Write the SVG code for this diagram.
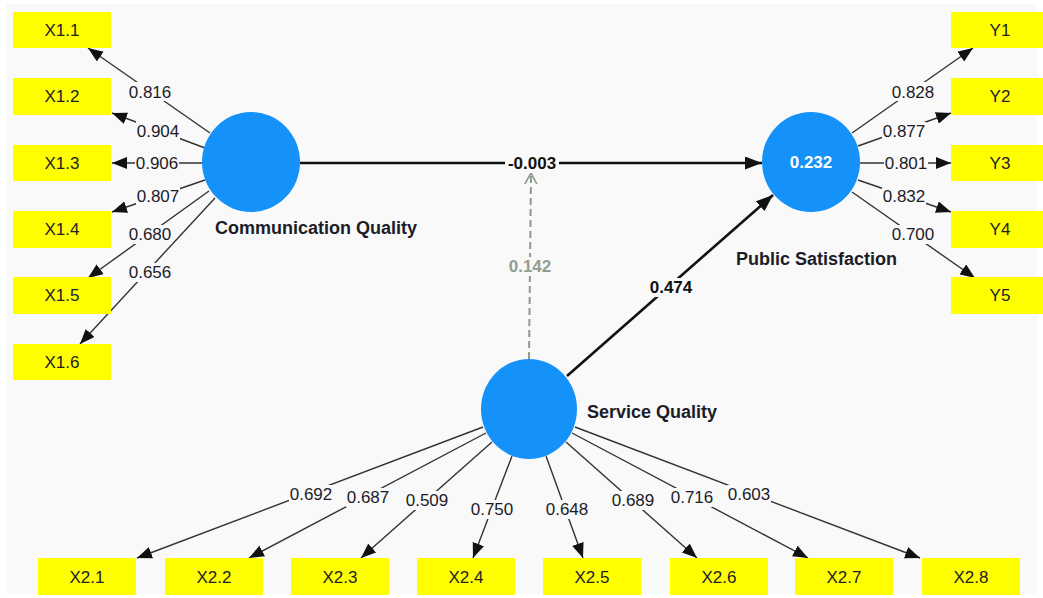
<svg xmlns="http://www.w3.org/2000/svg" width="1043" height="598" viewBox="0 0 1043 598">
<defs>
<style>
.box{fill:#ffff00}
.bt{font-family:"Liberation Sans",Arial,sans-serif;font-size:17px;fill:#222;text-anchor:middle}
.lv{fill:#1591fa}
.nl{font-family:"Liberation Sans",Arial,sans-serif;font-size:18px;font-weight:bold;fill:#1c1c28}
.ld{stroke:#333;stroke-width:1.4;fill:none;marker-end:url(#ah)}
.pth{stroke:#111;stroke-width:2.6;fill:none;marker-end:url(#ahb)}
.bg{fill:#f9f9f9}
.lab{font-family:"Liberation Sans",Arial,sans-serif;font-size:17px;fill:#1c1c28;text-anchor:middle}
.plab{font-family:"Liberation Sans",Arial,sans-serif;font-size:17px;font-weight:bold;fill:#111;text-anchor:middle}
</style>
<marker id="ah" viewBox="0 0 15 12" refX="15" refY="6" markerWidth="15" markerHeight="12" markerUnits="userSpaceOnUse" orient="auto"><path d="M0,0 L15,6 L0,12 z" fill="#111"/></marker>
<marker id="ahb" viewBox="0 0 17 13" refX="17" refY="6.5" markerWidth="17" markerHeight="13" markerUnits="userSpaceOnUse" orient="auto"><path d="M0,0 L17,6.5 L0,13 z" fill="#111"/></marker>
<marker id="aho" viewBox="0 0 12 14" refX="11" refY="7" markerWidth="12" markerHeight="14" markerUnits="userSpaceOnUse" orient="auto"><path d="M0,1 L11,7 L0,13" fill="none" stroke="#8c9a8c" stroke-width="1.6"/></marker>
</defs>
<rect x="0" y="0" width="1043" height="598" fill="#ffffff"/>
<rect x="6" y="4" width="1031" height="590" fill="#f9f9f9"/>

<g id="connectors">
<path class="ld" d="M210,133 L88,48"/>
<path class="ld" d="M205,148 L112,113"/>
<path class="ld" d="M203,163 L112,163"/>
<path class="ld" d="M205,180 L112,212"/>
<path class="ld" d="M209,191 L88,278"/>
<path class="ld" d="M215,198 L80,344"/>
<path class="ld" d="M852,133 L973,48"/>
<path class="ld" d="M858,146 L951,113"/>
<path class="ld" d="M860,163 L951,163"/>
<path class="ld" d="M858,180 L951,212"/>
<path class="ld" d="M852,192 L975,278"/>
<path class="ld" d="M483,427 L137,558"/>
<path class="ld" d="M486,433 L249,558"/>
<path class="ld" d="M492,442 L361,558"/>
<path class="ld" d="M512,456 L473,558"/>
<path class="ld" d="M546,456 L583,558"/>
<path class="ld" d="M566,442 L697,558"/>
<path class="ld" d="M572,433 L808,558"/>
<path class="ld" d="M575,427 L920,558"/>
<path class="pth" d="M300,163 L762,163"/>
<path class="pth" d="M567,376 L773,195"/>
<path d="M529,359 L531,173" fill="none" stroke="#8c9a8c" stroke-width="2" stroke-dasharray="7,4" marker-end="url(#aho)"/>
<g class="bg">
<rect x="128" y="82" width="44" height="19"/>
<rect x="136" y="121" width="44" height="19"/>
<rect x="135" y="154" width="44" height="19"/>
<rect x="136" y="187" width="44" height="19"/>
<rect x="128" y="225" width="44" height="19"/>
<rect x="128" y="263" width="44" height="19"/>
<rect x="891" y="82" width="44" height="19"/>
<rect x="882" y="122" width="44" height="19"/>
<rect x="884" y="154" width="44" height="19"/>
<rect x="882" y="187" width="44" height="19"/>
<rect x="891" y="225" width="44" height="19"/>
<rect x="289" y="485" width="44" height="19"/>
<rect x="346" y="488" width="44" height="19"/>
<rect x="405" y="491" width="44" height="19"/>
<rect x="470" y="500" width="44" height="19"/>
<rect x="545" y="500" width="44" height="19"/>
<rect x="611" y="491" width="44" height="19"/>
<rect x="670" y="488" width="44" height="19"/>
<rect x="727" y="485" width="44" height="19"/>
<rect x="505" y="154" width="54" height="19"/>
<rect x="648" y="278" width="46" height="19"/>
<rect x="507" y="257" width="46" height="19"/>
</g>
<text class="lab" x="150" y="98">0.816</text>
<text class="lab" x="158" y="137">0.904</text>
<text class="lab" x="157" y="169">0.906</text>
<text class="lab" x="158" y="202">0.807</text>
<text class="lab" x="150" y="240">0.680</text>
<text class="lab" x="150" y="278">0.656</text>
<text class="lab" x="913" y="98">0.828</text>
<text class="lab" x="904" y="137">0.877</text>
<text class="lab" x="906" y="169">0.801</text>
<text class="lab" x="904" y="202">0.832</text>
<text class="lab" x="913" y="240">0.700</text>
<text class="lab" x="311" y="500">0.692</text>
<text class="lab" x="368" y="503">0.687</text>
<text class="lab" x="427" y="506">0.509</text>
<text class="lab" x="492" y="515">0.750</text>
<text class="lab" x="567" y="515">0.648</text>
<text class="lab" x="633" y="506">0.689</text>
<text class="lab" x="692" y="503">0.716</text>
<text class="lab" x="749" y="500">0.603</text>
<text class="plab" x="532" y="169">-0.003</text>
<text class="plab" x="671" y="293">0.474</text>
<text class="plab" x="530" y="272" style="fill:#939e93">0.142</text>
</g>

<g id="X1.1"><rect class="box" x="13" y="12" width="98" height="36"/><text class="bt" x="62" y="36">X1.1</text></g>
<g id="X1.2"><rect class="box" x="13" y="78" width="98" height="37"/><text class="bt" x="62" y="102">X1.2</text></g>
<g id="X1.3"><rect class="box" x="13" y="145" width="98" height="36"/><text class="bt" x="62" y="169">X1.3</text></g>
<g id="X1.4"><rect class="box" x="13" y="211" width="98" height="37"/><text class="bt" x="62" y="235">X1.4</text></g>
<g id="X1.5"><rect class="box" x="13" y="277" width="98" height="37"/><text class="bt" x="62" y="301">X1.5</text></g>
<g id="X1.6"><rect class="box" x="13" y="344" width="98" height="36"/><text class="bt" x="62" y="368">X1.6</text></g>

<g id="Y1"><rect class="box" x="951" y="12" width="98" height="36"/><text class="bt" x="1000" y="36">Y1</text></g>
<g id="Y2"><rect class="box" x="951" y="78" width="98" height="37"/><text class="bt" x="1000" y="102">Y2</text></g>
<g id="Y3"><rect class="box" x="951" y="145" width="98" height="36"/><text class="bt" x="1000" y="169">Y3</text></g>
<g id="Y4"><rect class="box" x="951" y="211" width="98" height="37"/><text class="bt" x="1000" y="235">Y4</text></g>
<g id="Y5"><rect class="box" x="951" y="277" width="98" height="37"/><text class="bt" x="1000" y="301">Y5</text></g>

<g id="X2.1"><rect class="box" x="38" y="558" width="98" height="37"/><text class="bt" x="87" y="583">X2.1</text></g>
<g id="X2.2"><rect class="box" x="165" y="558" width="98" height="37"/><text class="bt" x="214" y="583">X2.2</text></g>
<g id="X2.3"><rect class="box" x="291" y="558" width="98" height="37"/><text class="bt" x="340" y="583">X2.3</text></g>
<g id="X2.4"><rect class="box" x="417" y="558" width="98" height="37"/><text class="bt" x="466" y="583">X2.4</text></g>
<g id="X2.5"><rect class="box" x="543" y="558" width="98" height="37"/><text class="bt" x="592" y="583">X2.5</text></g>
<g id="X2.6"><rect class="box" x="670" y="558" width="98" height="37"/><text class="bt" x="719" y="583">X2.6</text></g>
<g id="X2.7"><rect class="box" x="795" y="558" width="98" height="37"/><text class="bt" x="844" y="583">X2.7</text></g>
<g id="X2.8"><rect class="box" x="922" y="558" width="98" height="37"/><text class="bt" x="971" y="583">X2.8</text></g>

<g id="CommunicationQuality"><ellipse class="lv" cx="251" cy="162" rx="49" ry="50"/><text class="nl" x="215" y="234">Communication Quality</text></g>
<g id="PublicSatisfaction"><ellipse class="lv" cx="811" cy="162" rx="49" ry="50"/><text x="811" y="168" font-family="Liberation Sans, Arial, sans-serif" font-size="17" font-weight="bold" fill="#ffffff" text-anchor="middle">0.232</text><text class="nl" x="736" y="265">Public Satisfaction</text></g>
<g id="ServiceQuality"><ellipse class="lv" cx="529" cy="409" rx="48" ry="50"/><text class="nl" x="587" y="418">Service Quality</text></g>
</svg>
